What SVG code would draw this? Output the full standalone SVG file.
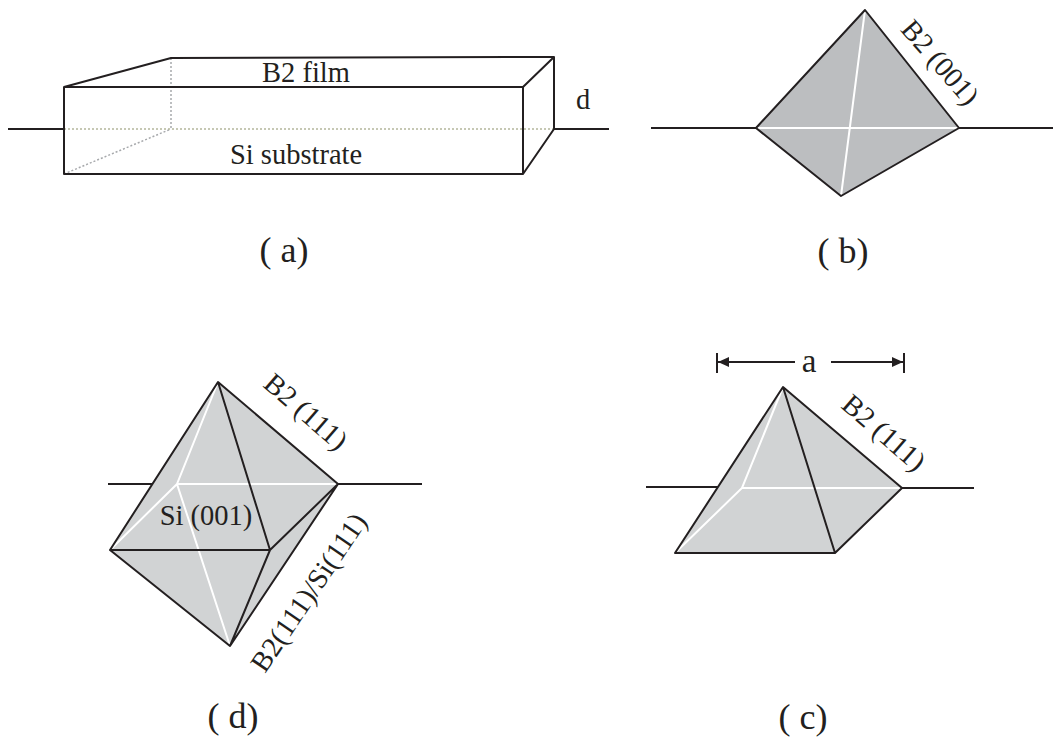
<svg xmlns="http://www.w3.org/2000/svg" width="1053" height="737" viewBox="0 0 1053 737">
<style>
text{font-family:"Liberation Serif","Times New Roman",serif;fill:#231f20}
.l{font-size:28.5px}.c{font-size:36px}
.k{stroke:#231f20;stroke-width:2;fill:none;stroke-linejoin:round}
.w{stroke:#fff;stroke-width:2;fill:none}
.d{stroke:#a7a9ac;stroke-width:1.5;stroke-dasharray:2 2;fill:none}
.o{stroke:#b4b79c;stroke-width:1.5;stroke-dasharray:2 2;fill:none}
.g{fill:#d1d3d4}
</style>
<defs><marker id="ah" markerWidth="12" markerHeight="10" refX="11" refY="5" orient="auto" markerUnits="userSpaceOnUse"><path d="M0 0L11 5L0 10z" fill="#231f20"/></marker></defs>
<rect width="1053" height="737" fill="#fff"/>
<g id="connectors">
<path class="k" d="M8 129H64M554 129H609M651 128H756M959 128H1053"/>
<path class="k" d="M108 484H157M338 484H422M646 487H718M902 488H974"/>
</g>
<g id="node-a">
<path class="d" d="M171 58V129M64 174L171 129"/>
<path class="o" d="M64 129H554"/>
<path class="k" d="M64 87V174H523V87ZM64 87L171 58L554 57V129L523 174M523 87L554 57"/>
<text class="l" x="306" y="82" text-anchor="middle">B2 film</text>
<text class="l" x="296" y="164" text-anchor="middle">Si substrate</text>
<text class="l" x="583" y="109" text-anchor="middle">d</text>
<text class="c" x="284" y="262" text-anchor="middle">( a)</text>
</g>
<g id="node-b">
<path d="M865 10L959 128L841 196L756 128Z" fill="#bcbec0"/>
<path class="w" d="M756 128H959M865 10L841 196"/>
<path class="k" d="M865 10L959 128L841 196L756 128Z"/>
<text class="l" transform="translate(899.5 30) rotate(49)">B2 (001)</text>
<text class="c" x="843" y="263" text-anchor="middle">( b)</text>
</g>
<g id="node-d">
<path class="g" d="M218 382L338 484L230 646L110 550Z"/>
<path class="w" d="M218 382L177 484L230 646M110 550L177 484H338"/>
<path class="k" d="M218 382L338 484L230 646L110 550ZM110 550H270M218 382L270 550L338 484M270 550L230 646"/>
<text class="l" x="206" y="525" text-anchor="middle">Si (001)</text>
<text class="l" transform="translate(262 386) rotate(41)">B2 (111)</text>
<text class="l" transform="translate(265 674) rotate(-56)">B2(111)/Si(111)</text>
<text class="c" x="233" y="728" text-anchor="middle">( d)</text>
</g>
<g id="node-c">
<path class="g" d="M783 387L902 488L835 553H675Z"/>
<path class="w" d="M783 387L742 488L675 553M742 488H902"/>
<path class="k" d="M783 387L902 488L835 553H675ZM783 387L835 553"/>
<path class="k" d="M717 353V373M904 353V373"/>
<path class="k" stroke-width="1.5" d="M795 362H718" marker-end="url(#ah)"/>
<path class="k" stroke-width="1.5" d="M831 362H903" marker-end="url(#ah)"/>
<text x="809" y="372" text-anchor="middle" style="font-size:33px">a</text>
<text class="l" transform="translate(840 407) rotate(41)">B2 (111)</text>
<text class="c" x="803" y="729" text-anchor="middle">( c)</text>
</g>
</svg>
